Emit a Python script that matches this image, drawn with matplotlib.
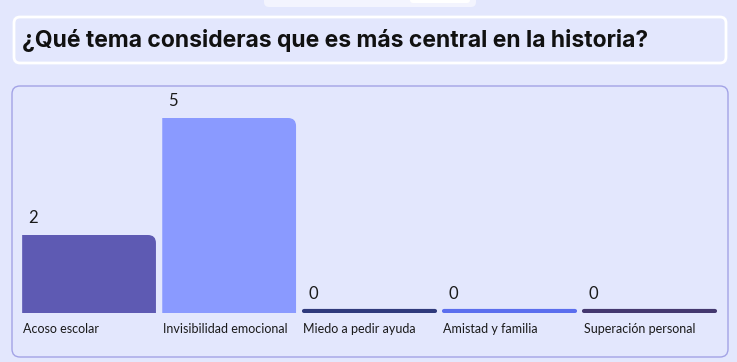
import matplotlib.pyplot as plt
from matplotlib.patches import FancyBboxPatch, PathPatch
from matplotlib.path import Path

# data
categorias = ['Acoso escolar', 'Invisibilidad emocional', 'Miedo a pedir ayuda',
              'Amistad y familia', 'Superación personal']
votos = [2, 5, 0, 0, 0]
colores = ['#5E5AB3', '#8A9AFF', '#2F3A7C', '#5B6EEE', '#44386F']
titulo = '¿Qué tema consideras que es más central en la historia?'

W, H = 737, 362
fondo = '#E3E7FD'
plt.rcParams['font.family'] = ['Lato', 'DejaVu Sans']

fig = plt.figure(figsize=(W / 100, H / 100), dpi=100)
fig.patch.set_facecolor(fondo)

# background layer in pixel coords
bg = fig.add_axes([0, 0, 1, 1])
bg.set_xlim(0, W)
bg.set_ylim(H, 0)
bg.axis('off')

# small tab at the top
bg.add_patch(FancyBboxPatch((264, -10), 212, 17, boxstyle='round,pad=0,rounding_size=5',
                            fc='#F3F4FE', ec='none'))
bg.add_patch(FancyBboxPatch((410, -10), 60, 13, boxstyle='round,pad=0,rounding_size=3',
                            fc='white', ec='none'))

# title box
bg.add_patch(FancyBboxPatch((14, 17), 712, 46, boxstyle='round,pad=0,rounding_size=6',
                            fc=fondo, ec='white', lw=2))
bg.text(22, 41, titulo, fontsize=16.5, fontweight='bold', color='#111111',
        va='center', ha='left', family=['Inter', 'DejaVu Sans'])

# chart panel
bg.add_patch(FancyBboxPatch((12, 86), 716, 271, boxstyle='round,pad=0,rounding_size=8',
                            fc=fondo, ec='#A3A3E6', lw=1))

# bars axes
px_u = 39.0  # pixels per vote
left, right, base, top = 19, 719.5, 313, 90
ax = fig.add_axes([left / W, (H - base) / H, (right - left) / W, (base - top) / H])
ax.set_xlim(-0.5, len(categorias) - 0.5)
ax.set_ylim(0, (base - top) / px_u)
ax.axis('off')
ax.patch.set_alpha(0)

x = list(range(len(categorias)))
ancho = 0.955
bars = ax.bar(x, votos, width=ancho, color=colores, align='center')

rx = 8 / ((right - left) / len(categorias))
ry = 8 / px_u
for b, v, c, cat in zip(bars, votos, colores, categorias):
    x0 = b.get_x()
    x1 = x0 + b.get_width()
    h = b.get_height()
    if h > 0:
        b.remove()
        verts = [(x0, 0), (x1, 0), (x1, h - ry), (x1, h), (x1 - rx, h), (x0, h), (x0, 0)]
        codes = [Path.MOVETO, Path.LINETO, Path.LINETO, Path.CURVE3, Path.CURVE3,
                 Path.LINETO, Path.CLOSEPOLY]
        ax.add_patch(PathPatch(Path(verts, codes), fc=c, ec='none'))
    else:
        ax.plot([x0 + 0.01, x1 - 0.01], [0.05, 0.05], color=c, lw=3,
                solid_capstyle='round')
    ax.annotate(str(v), (x0, h), xytext=(6 * 0.72, 17 * 0.72 if h > 0 else 19 * 0.72),
                textcoords='offset points', fontsize=12, color='#1a1a1a',
                ha='left', va='center')
    ax.annotate(cat, (x0, 0), xytext=(1 * 0.72, -16 * 0.72), textcoords='offset points',
                fontsize=9, color='#1a1a1a', ha='left', va='center',
                annotation_clip=False)

fig.savefig('out.png', dpi=100, facecolor=fondo)
